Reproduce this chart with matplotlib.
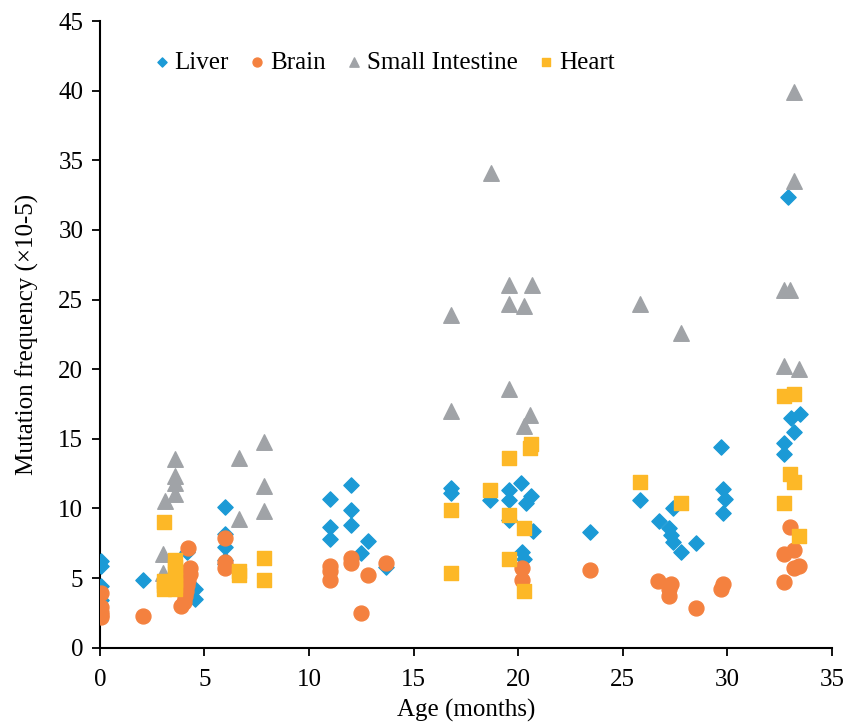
import numpy as np
import matplotlib
matplotlib.use("Agg")
import matplotlib.pyplot as plt

# Liver
liver_x = [0.05, 0.05, 0.05, 0.05, 2.06, 4.15, 3.95, 4.55, 4.55,
           6.0, 6.0, 6.0, 6.0, 6.0, 11.0, 11.0, 11.0, 12.0, 12.0, 12.0, 12.5, 12.8, 13.7,
           16.8, 16.8, 18.65, 19.57, 19.57, 19.57, 20.15, 20.4, 20.6, 20.7, 20.2, 20.3,
           23.45, 25.85, 26.75, 27.2, 27.3, 27.4, 27.4, 27.8, 28.5,
           29.7, 29.8, 29.9, 29.8,
           33.05, 33.5, 33.2, 32.7, 32.7, 32.9]
liver_y = [6.2, 5.9, 4.4, 3.45, 4.85, 6.9, 5.0, 4.2, 3.5,
           10.1, 8.2, 7.2, 6.3, 6.0, 10.7, 8.7, 7.8, 11.7, 9.9, 8.8, 6.8, 7.7, 5.8,
           11.45, 11.1, 10.6, 11.35, 10.6, 9.2, 11.8, 10.4, 10.9, 8.35, 6.9, 6.4,
           8.3, 10.6, 9.1, 8.6, 8.1, 10.0, 7.6, 6.9, 7.5,
           14.45, 11.4, 10.7, 9.7,
           16.5, 16.8, 15.5, 14.7, 13.9, 32.4]

# Brain
brain_x = [0.05, 0.05, 0.05, 0.05, 0.05, 2.06,
           4.19, 4.3, 4.3, 4.2, 4.15, 4.1, 4.05, 4.0, 3.9,
           6.0, 6.0, 6.0, 11.0, 11.0, 11.0, 12.0, 12.0, 12.8, 12.5, 13.7,
           20.17, 20.17, 23.45, 26.7, 27.3, 27.2, 27.2, 28.5, 29.8, 29.7,
           33.0, 33.2, 32.7, 33.45, 33.2, 32.7]
brain_y = [3.9, 2.95, 2.6, 2.35, 2.2, 2.3,
           7.15, 5.7, 5.3, 4.9, 4.5, 4.1, 3.7, 3.3, 3.0,
           7.85, 6.15, 5.75, 5.85, 5.5, 4.9, 6.45, 6.1, 5.25, 2.5, 6.1,
           5.7, 4.9, 5.6, 4.8, 4.6, 4.2, 3.75, 2.85, 4.6, 4.2,
           8.7, 7.0, 6.7, 5.9, 5.7, 4.7]

# Small Intestine
si_x = [3.0, 3.0, 3.1, 3.6, 3.6, 3.6, 3.6,
        6.65, 6.65, 7.85, 7.85, 7.85,
        16.8, 16.8, 18.7, 19.57, 20.67, 19.57, 20.26, 19.57, 20.58, 20.26,
        25.85, 27.8,
        33.2, 33.2, 32.7, 33.0, 32.7, 33.45]
si_y = [6.7, 5.4, 10.55, 13.55, 12.35, 11.8, 11.05,
        13.6, 9.25, 14.8, 11.65, 9.85,
        23.9, 17.0, 34.1, 26.05, 26.05, 24.7, 24.55, 18.6, 16.7, 15.9,
        24.7, 22.6,
        39.9, 33.5, 25.7, 25.7, 20.2, 20.0]

# Heart
heart_x = [3.05, 3.05, 3.05, 3.05, 3.6, 3.6, 3.6, 3.6, 3.6, 3.6,
           6.65, 6.65, 7.85, 7.85,
           16.8, 16.8, 18.65, 19.57, 19.57, 19.57, 20.63, 20.55, 20.26, 20.26,
           25.85, 27.8,
           32.7, 33.2, 33.0, 33.2, 32.7, 33.45]
heart_y = [9.0, 4.8, 4.5, 4.2, 6.3, 5.8, 5.3, 4.9, 4.5, 4.2,
           5.5, 5.2, 6.45, 4.9,
           9.9, 5.4, 11.3, 13.6, 9.55, 6.4, 14.6, 14.35, 8.6, 4.1,
           11.9, 10.4,
           18.1, 18.25, 12.5, 11.9, 10.4, 8.0]

plt.rcParams['font.family'] = ['Liberation Serif', 'DejaVu Serif']

fig = plt.figure(figsize=(8.47, 7.27), dpi=100)
ax = fig.add_axes([0.118, 0.109, 0.864, 0.862])

ax.scatter(liver_x, liver_y, marker='D', s=60, color='#1B9AD6', label='Liver', zorder=3)
ax.scatter(brain_x, brain_y, marker='o', s=115, color='#F4813F', label='Brain', zorder=3)
ax.scatter(si_x, si_y, marker='^', s=125, color='#A0A3A7', label='Small Intestine', zorder=3)
ax.scatter(heart_x, heart_y, marker='s', s=110, color='#FDB827', label='Heart', zorder=3)

ax.set_xlim(0, 35)
ax.set_ylim(0, 45)
ax.set_xticks(np.arange(0, 36, 5))
ax.set_yticks(np.arange(0, 46, 5))
ax.spines['top'].set_visible(False)
ax.spines['right'].set_visible(False)
ax.spines['left'].set_linewidth(1.5)
ax.spines['bottom'].set_linewidth(1.5)
ax.tick_params(axis='both', direction='out', length=6, width=1.3, labelsize=18)
ax.tick_params(axis='x', pad=9)
ax.tick_params(axis='y', pad=6)
ax.set_xlabel('Age (months)', fontsize=18, labelpad=6)
ax.set_ylabel('Mutation frequency (\u00d710-5)', fontsize=18, labelpad=14)

ax.legend(loc='upper left', bbox_to_anchor=(0.045, 0.988), ncol=4, frameon=False,
          fontsize=18, markerscale=0.6, handlelength=0.5, handletextpad=0.25,
          columnspacing=0.9)

fig.savefig('out.png', dpi=100)
